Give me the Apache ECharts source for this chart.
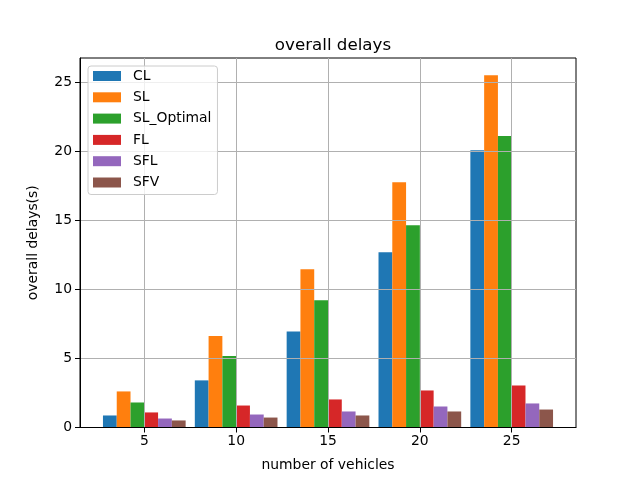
<!DOCTYPE html>
<html>
<head>
<meta charset="utf-8">
<script src="https://cdn.jsdelivr.net/npm/echarts@6/dist/echarts.min.js"></script>
<style>html,body{margin:0;padding:0;background:#fff}#c{width:640px;height:480px}</style>
</head>
<body>
<div id="c"></div>
<script>
const categories = [5, 10, 15, 20, 25];
const seriesNames = ['CL', 'SL', 'SL_Optimal', 'FL', 'SFL', 'SFV'];
const CL = [0.87, 3.41, 6.95, 12.68, 20.07];
const SL = [2.61, 6.62, 11.45, 17.75, 25.5];
const SL_Optimal = [1.81, 5.17, 9.2, 14.64, 21.09];
const FL = [1.09, 1.59, 2.03, 2.68, 3.04];
const SFL = [0.65, 0.94, 1.16, 1.52, 1.74];
const SFV = [0.51, 0.72, 0.87, 1.16, 1.30];
const yTicks = [0, 5, 10, 15, 20, 25];
const colors = ['#1f77b4', '#ff7f0e', '#2ca02c', '#d62728', '#9467bd', '#8c564b'];
const values = [CL, SL, SL_Optimal, FL, SFL, SFV];
const font = 'DejaVu Sans';
const chart = echarts.init(document.getElementById('c'), null, {renderer: 'canvas'});
chart.setOption({
  animation: false,
  textStyle: {fontFamily: font},
  title: {
    text: 'overall delays', left: 328, top: 32, textAlign: 'center',
    textStyle: {fontFamily: font, fontSize: 16.7, fontWeight: 'normal', color: '#000'}
  },
  grid: {left: 80, right: 64, top: 58, height: 369.5, show: true, borderColor: '#000', borderWidth: 1, backgroundColor: 'transparent'},
  legend: {
    orient: 'vertical', left: 88, top: 66, z: 10,
    data: seriesNames,
    itemWidth: 28, itemHeight: 10, itemGap: 7.3,
    icon: 'rect',
    backgroundColor: 'rgba(255,255,255,0.8)', borderColor: '#cccccc', borderWidth: 1, borderRadius: 3,
    padding: [3, 6, 5, 5],
    textStyle: {fontFamily: font, fontSize: 13.9, color: '#000', lineHeight: 14, padding: [0, 0, 0, 7]}
  },
  xAxis: {
    type: 'value', min: 1.5, max: 28.5, z: 3,
    name: 'number of vehicles', nameLocation: 'middle', nameGap: 31,
    nameTextStyle: {fontFamily: font, fontSize: 13.9, color: '#000'},
    axisLine: {show: true, onZero: false, lineStyle: {color: '#000'}},
    axisTick: {show: true, customValues: categories, length: 5, lineStyle: {color: '#000'}},
    axisLabel: {customValues: categories, fontFamily: font, fontSize: 13.9, color: '#000', margin: 7},
    splitLine: {show: true, lineStyle: {color: '#b0b0b0', width: 1}}
  },
  yAxis: {
    type: 'value', min: 0, max: 26.74, z: 3,
    name: 'overall delays(s)', nameLocation: 'middle', nameGap: 40,
    nameTextStyle: {fontFamily: font, fontSize: 13.9, color: '#000'},
    axisLine: {show: true, onZero: false, lineStyle: {color: '#000'}},
    axisTick: {show: true, customValues: yTicks, length: 5, lineStyle: {color: '#000'}},
    axisLabel: {customValues: yTicks, fontFamily: font, fontSize: 13.9, color: '#000', margin: 8},
    splitLine: {show: true, lineStyle: {color: '#b0b0b0', width: 1}}
  },
  series: seriesNames.map((n, i) => ({
    name: n, type: 'bar', barWidth: 13.78, barGap: '0%',
    itemStyle: {color: colors[i]},
    data: categories.map((c, j) => [c, values[i][j]])
  }))
});
</script>
</body>
</html>
